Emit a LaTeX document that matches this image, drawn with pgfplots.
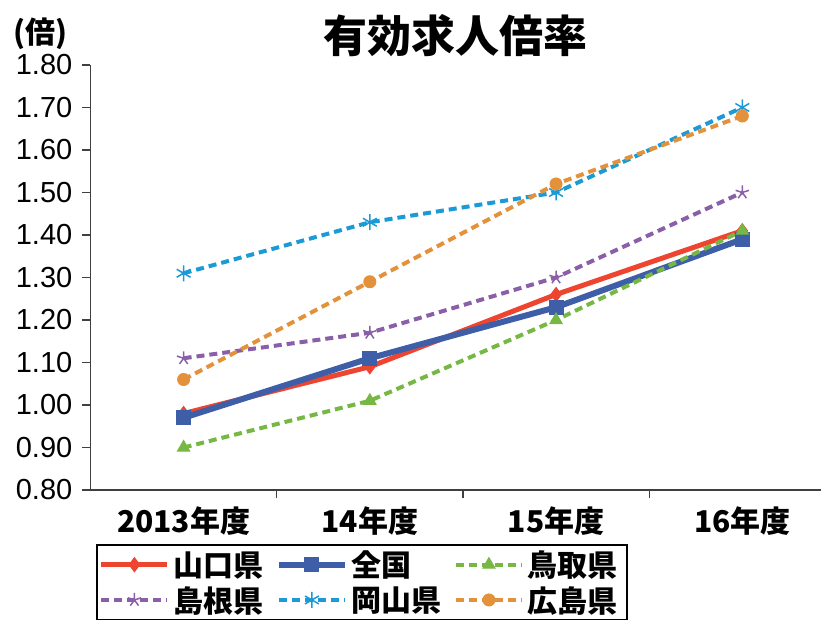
\documentclass[border=0pt]{standalone}
\usepackage{fontspec}
\setmainfont{Liberation Sans}
\newfontfamily\jp{Noto Sans CJK JP}
\usepackage{pgfplots}
\pgfplotsset{compat=1.18}
\definecolor{cRed}{HTML}{EE4530}
\definecolor{cBlue}{HTML}{3E5EA8}
\definecolor{cGreen}{HTML}{76B843}
\definecolor{cPurple}{HTML}{8A5FA8}
\definecolor{cCyan}{HTML}{1B9AD6}
\definecolor{cOrange}{HTML}{E3913A}
\begin{document}
\begin{tikzpicture}
\begin{axis}[
  scale only axis,
  width=730pt, height=425pt,
  xmin=-0.5, xmax=3.42,
  ymin=0.8, ymax=1.8,
  ytick={0.8,0.9,...,1.81},
  axis lines*=left,
  axis line style={-, draw=black!75, line width=1.2pt},
  tick style={draw=black!75, line width=1.2pt},
  tick align=outside,
  major tick length=8pt,
  xtick={0.5,1.5,2.5},
  xticklabels={},
  extra x ticks={0,1,2,3},
  extra x tick labels={2013年度,14年度,15年度,16年度},
  extra x tick style={major tick length=0pt, tick label style={font=\jp\bfseries\fontsize{30pt}{32pt}\selectfont, inner sep=0pt, yshift=-17pt}},
  yticklabel style={font=\fontsize{29pt}{30pt}\selectfont, inner sep=0pt},
  yticklabel shift=10pt,
  /pgf/number format/assume math mode=true,
  /pgf/number format/.cd, fixed, fixed zerofill, precision=2,
  /pgfplots/.cd,
  title={有効求人倍率},
  title style={font=\jp\bfseries\fontsize{44pt}{46pt}\selectfont, at={(0.5,1)}, anchor=south, inner sep=0pt, yshift=2pt},
  legend columns=3,
  legend style={at={(0.008,-0.128)}, anchor=north west, draw=black, line width=1.2pt,
    font=\jp\bfseries\fontsize{30pt}{32pt}\selectfont,
    inner xsep=2pt, inner ysep=5pt,
    nodes={text width=96pt, align=left, inner sep=1pt},
    /tikz/every even column/.append style={column sep=5pt},
    /tikz/every odd column/.append style={column sep=3pt},
    row sep=6pt},
  legend image code/.code={\draw[mark repeat=2,mark phase=2] plot coordinates {(0pt,0pt) (33pt,0pt) (66pt,0pt)};},
  clip=false,
]
\addplot[cRed, line width=5pt, mark=diamond*, mark size=7pt, mark options={solid, line width=1pt}]
  coordinates {(0,0.98) (1,1.09) (2,1.26) (3,1.41)};
\addlegendentry{山口県}
\addplot[cBlue, line width=6pt, mark=square*, mark size=7pt, mark options={solid, line width=1pt}]
  coordinates {(0,0.97) (1,1.11) (2,1.23) (3,1.39)};
\addlegendentry{全国}
\addplot[cGreen, line width=4pt, dash pattern=on 8pt off 5pt, mark=triangle*, mark size=7pt, mark options={solid, line width=1pt}]
  coordinates {(0,0.90) (1,1.01) (2,1.20) (3,1.41)};
\addlegendentry{鳥取県}
\addplot[cPurple, line width=4pt, dash pattern=on 8pt off 5pt, mark=star, mark size=7pt, mark options={solid, line width=1.5pt}]
  coordinates {(0,1.11) (1,1.17) (2,1.30) (3,1.50)};
\addlegendentry{島根県}
\addplot[cCyan, line width=4pt, dash pattern=on 8pt off 5pt, mark=asterisk, mark size=8pt, mark options={solid, line width=1.5pt}]
  coordinates {(0,1.31) (1,1.43) (2,1.50) (3,1.70)};
\addlegendentry{岡山県}
\addplot[cOrange, line width=4pt, dash pattern=on 8pt off 5pt, mark=*, mark size=6pt, mark options={solid, line width=1pt}]
  coordinates {(0,1.06) (1,1.29) (2,1.52) (3,1.68)};
\addlegendentry{広島県}
\end{axis}
\node[font=\jp\bfseries\fontsize{30pt}{32pt}\selectfont, inner sep=0pt, anchor=south west] at ([xshift=-77pt, yshift=15pt]current axis.north west) {(倍)};
\path ([xshift=-90.5pt, yshift=-134pt]current axis.south west) rectangle ++(824pt,624pt);
\end{tikzpicture}
\end{document}
